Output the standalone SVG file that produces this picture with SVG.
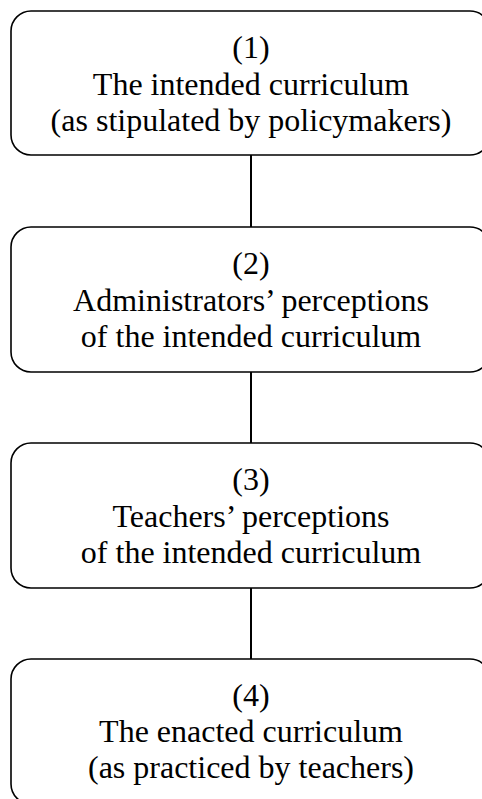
<svg xmlns="http://www.w3.org/2000/svg" width="482" height="799" viewBox="0 0 482 799">
<style>
.box{fill:#fff;stroke:#000;stroke-width:1.6}
.conn{stroke:#000;stroke-width:2;fill:none}
text{font-family:"Liberation Serif","Times New Roman",serif;font-size:32px;fill:#000;text-anchor:middle}
</style>
<rect width="482" height="799" fill="#fff"/>
<g id="connectors">
<line class="conn" x1="251" y1="155" x2="251" y2="227"/>
<line class="conn" x1="251" y1="372" x2="251" y2="443"/>
<line class="conn" x1="251" y1="588" x2="251" y2="659"/>
</g>
<g id="node1">
<rect class="box" x="11" y="11" width="479" height="144" rx="20" ry="20"/>
<text x="251" y="58">(1)</text>
<text x="251" y="95">The intended curriculum</text>
<text x="251" y="131">(as stipulated by policymakers)</text>
</g>
<g id="node2">
<rect class="box" x="11" y="227" width="479" height="145" rx="20" ry="20"/>
<text x="251" y="274">(2)</text>
<text x="251" y="311">Administrators’ perceptions</text>
<text x="251" y="347">of the intended curriculum</text>
</g>
<g id="node3">
<rect class="box" x="11" y="443" width="479" height="145" rx="20" ry="20"/>
<text x="251" y="490">(3)</text>
<text x="251" y="527">Teachers’ perceptions</text>
<text x="251" y="563">of the intended curriculum</text>
</g>
<g id="node4">
<rect class="box" x="11" y="659" width="479" height="145" rx="20" ry="20"/>
<text x="251" y="706">(4)</text>
<text x="251" y="742">The enacted curriculum</text>
<text x="251" y="778">(as practiced by teachers)</text>
</g>
</svg>
